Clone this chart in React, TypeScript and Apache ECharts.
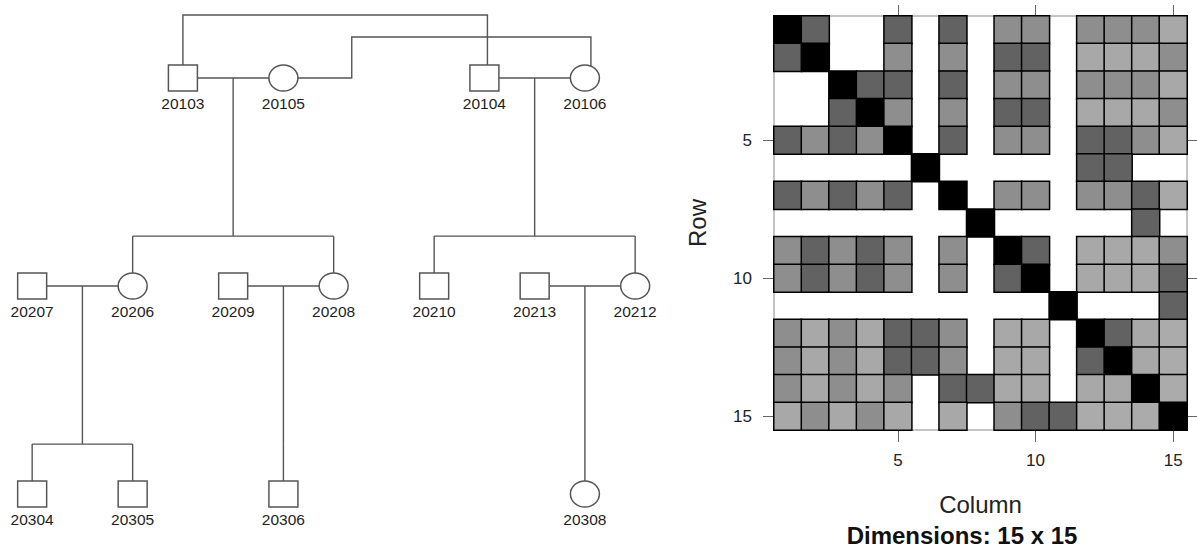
import { useEffect, useRef } from 'react';
import * as echarts from 'echarts';

// ---- Pedigree members: id, sex, horizontal slot and generation ----
const pedIds = ['20103', '20105', '20104', '20106', '20207', '20206', '20209', '20208', '20210', '20213', '20212', '20304', '20305', '20306', '20308'];
const pedSex = ['M', 'F', 'M', 'F', 'M', 'F', 'M', 'F', 'M', 'M', 'F', 'M', 'M', 'M', 'F'];
const pedSlot = [1.5, 2.5, 4.5, 5.5, 0, 1, 2, 3, 4, 5, 6, 0, 1, 2.5, 5.5];
const pedGen = [1, 1, 1, 1, 2, 2, 2, 2, 2, 2, 2, 3, 3, 3, 3];

// ---- Matings and their offspring ----
const matFathers = ['20103', '20104', '20207', '20209', '20213'];
const matMothers = ['20105', '20106', '20206', '20208', '20212'];
const matChildren = [['20206', '20208'], ['20210', '20212'], ['20304', '20305'], ['20306'], ['20308']];

// Connectors between full siblings whose parents are not part of the tree (slot / generation units)
const sibLinkRoutes = [
  [[1.5, 1], [1.5, 0.697], [4.53, 0.697], [4.53, 1]],
  [[2.5, 1], [3.18, 1], [3.18, 0.803], [5.56, 0.803], [5.56, 1]],
];

// ---- Additive relationship matrix ----
const matrixIds = ['20103', '20104', '20105', '20106', '20206', '20207', '20208', '20209', '20210', '20212', '20213', '20304', '20305', '20306', '20308'];
const relationship = [
  [1, 0.5, 0, 0, 0.5, 0, 0.5, 0, 0.25, 0.25, 0, 0.25, 0.25, 0.25, 0.125],
  [0.5, 1, 0, 0, 0.25, 0, 0.25, 0, 0.5, 0.5, 0, 0.125, 0.125, 0.125, 0.25],
  [0, 0, 1, 0.5, 0.5, 0, 0.5, 0, 0.25, 0.25, 0, 0.25, 0.25, 0.25, 0.125],
  [0, 0, 0.5, 1, 0.25, 0, 0.25, 0, 0.5, 0.5, 0, 0.125, 0.125, 0.125, 0.25],
  [0.5, 0.25, 0.5, 0.25, 1, 0, 0.5, 0, 0.25, 0.25, 0, 0.5, 0.5, 0.25, 0.125],
  [0, 0, 0, 0, 0, 1, 0, 0, 0, 0, 0, 0.5, 0.5, 0, 0],
  [0.5, 0.25, 0.5, 0.25, 0.5, 0, 1, 0, 0.25, 0.25, 0, 0.25, 0.25, 0.5, 0.125],
  [0, 0, 0, 0, 0, 0, 0, 1, 0, 0, 0, 0, 0, 0.5, 0],
  [0.25, 0.5, 0.25, 0.5, 0.25, 0, 0.25, 0, 1, 0.5, 0, 0.125, 0.125, 0.125, 0.25],
  [0.25, 0.5, 0.25, 0.5, 0.25, 0, 0.25, 0, 0.5, 1, 0, 0.125, 0.125, 0.125, 0.5],
  [0, 0, 0, 0, 0, 0, 0, 0, 0, 0, 1, 0, 0, 0, 0.5],
  [0.25, 0.125, 0.25, 0.125, 0.5, 0.5, 0.25, 0, 0.125, 0.125, 0, 1, 0.5, 0.125, 0.0625],
  [0.25, 0.125, 0.25, 0.125, 0.5, 0.5, 0.25, 0, 0.125, 0.125, 0, 0.5, 1, 0.125, 0.0625],
  [0.25, 0.125, 0.25, 0.125, 0.25, 0, 0.5, 0.5, 0.125, 0.125, 0, 0.125, 0.125, 1, 0.0625],
  [0.125, 0.25, 0.125, 0.25, 0.125, 0, 0.125, 0, 0.25, 0.5, 0.5, 0.0625, 0.0625, 0.0625, 1],
];
const axisCategories = ['1', '2', '3', '4', '5', '6', '7', '8', '9', '10', '11', '12', '13', '14', '15'];
const labelledTicks = [5, 10, 15];
const shadeValues = [1, 0.5, 0.25, 0.125, 0.0625];
const shadeColors = ['#000000', '#626262', '#8e8e8e', '#a8a8a8', '#ababab'];

const FONT = '"Liberation Sans", Arial, Helvetica, sans-serif';
const LINE_COLOR = '#555';
const SIB_BAR_DROP = 0.76; // sibship bar, in generation units below the parents
const ELLIPSE =
  'path://M0,50 C0,22.4 22.4,0 50,0 C77.6,0 100,22.4 100,50 C100,77.6 77.6,100 50,100 C22.4,100 0,77.6 0,50 Z';

function memberPos(id: string): [number, number] {
  const i = pedIds.indexOf(id);
  return [pedSlot[i], pedGen[i]];
}

function buildPedigreeRoutes(): number[][][] {
  const routes: number[][][] = [];
  matFathers.forEach((fid, k) => {
    const [fx, g] = memberPos(fid);
    const [mx] = memberPos(matMothers[k]);
    routes.push([[fx, g], [mx, g]]);
    const mid = (fx + mx) / 2;
    const barY = g + SIB_BAR_DROP;
    routes.push([[mid, g], [mid, barY]]);
    const kids = matChildren[k].map(memberPos);
    const xs = kids.map((c) => c[0]);
    const lo = Math.min(...xs, mid);
    const hi = Math.max(...xs, mid);
    if (hi > lo) routes.push([[lo, barY], [hi, barY]]);
    kids.forEach(([cx, cg]) => routes.push([[cx, barY], [cx, cg]]));
  });
  sibLinkRoutes.forEach((r) => routes.push(r));
  return routes;
}

export default function App() {
  const ref = useRef<HTMLDivElement>(null);

  useEffect(() => {
    if (!ref.current) return;
    const chart = echarts.init(ref.current, undefined, { renderer: 'svg' });

    const heatData: number[][] = [];
    relationship.forEach((row, r) =>
      row.forEach((v, c) => {
        if (v > 0) heatData.push([c, r, v]);
      })
    );

    const tickFilter = (index: number) => labelledTicks.indexOf(index + 1) >= 0;
    const tickStyle = { color: '#666', width: 1 };

    const catAxisBase = {
      gridIndex: 1,
      type: 'category' as const,
      data: axisCategories,
      boundaryGap: true,
      axisLine: { show: false },
      splitLine: { show: false },
      axisTick: { show: true, alignWithLabel: true, interval: tickFilter, length: 11, lineStyle: tickStyle },
    };

    // pedigree panel: 100.5 px per slot, 208 px per generation
    const pedWidth = 670;
    const pedHeight = 549;
    const slotMin = -0.32;
    const genMin = 0.625;

    chart.setOption({
      animation: false,
      textStyle: { fontFamily: FONT },
      grid: [
        { left: 0, top: 0, width: pedWidth, height: pedHeight, show: false },
        { left: 774, top: 16, width: 413, height: 414, show: true, borderColor: '#8a8a8a', borderWidth: 1, backgroundColor: 'transparent' },
      ],
      xAxis: [
        { gridIndex: 0, type: 'value', min: slotMin, max: slotMin + pedWidth / 100.5, show: false },
        {
          ...catAxisBase,
          position: 'bottom',
          axisTick: { ...catAxisBase.axisTick, length: 12 },
          axisLabel: { interval: tickFilter, margin: 22, fontSize: 17, color: '#222', fontFamily: FONT },
          name: 'Column',
          nameLocation: 'middle',
          nameGap: 62,
          nameTextStyle: { fontSize: 24, color: '#222', fontFamily: FONT },
        },
        { ...catAxisBase, position: 'top', axisLabel: { show: false } },
      ],
      yAxis: [
        { gridIndex: 0, type: 'value', min: genMin, max: genMin + pedHeight / 208, inverse: true, show: false },
        {
          ...catAxisBase,
          inverse: true,
          position: 'left',
          axisLabel: { interval: tickFilter, margin: 22, fontSize: 17, color: '#222', fontFamily: FONT },
          name: 'Row',
          nameLocation: 'middle',
          nameGap: 65,
          nameTextStyle: { fontSize: 24, color: '#222', fontFamily: FONT },
        },
        { ...catAxisBase, inverse: true, position: 'right', axisLabel: { show: false } },
      ],
      visualMap: {
        type: 'piecewise',
        show: false,
        seriesIndex: 2,
        dimension: 2,
        pieces: shadeValues.map((v, i) => ({ value: v, color: shadeColors[i] })),
      },
      graphic: [
        {
          type: 'text',
          x: 962,
          y: 535,
          style: {
            text: 'Dimensions: ' + matrixIds.length + ' x ' + matrixIds.length,
            font: 'bold 24px ' + FONT,
            fill: '#111',
            textAlign: 'center',
            textVerticalAlign: 'middle',
          },
        },
      ],
      series: [
        {
          type: 'lines',
          coordinateSystem: 'cartesian2d',
          xAxisIndex: 0,
          yAxisIndex: 0,
          polyline: true,
          silent: true,
          z: 1,
          data: buildPedigreeRoutes().map((coords) => ({ coords })),
          lineStyle: { color: LINE_COLOR, width: 1.4, opacity: 1, curveness: 0 },
        },
        {
          type: 'scatter',
          xAxisIndex: 0,
          yAxisIndex: 0,
          z: 3,
          silent: true,
          symbolSize: [29, 26],
          data: pedIds.map((id, i) => ({
            name: id,
            value: [pedSlot[i], pedGen[i]],
            symbol: pedSex[i] === 'M' ? 'rect' : ELLIPSE,
          })),
          itemStyle: { color: '#ffffff', borderColor: LINE_COLOR, borderWidth: 1.4, opacity: 1 },
          label: { show: true, position: 'bottom', distance: 4, formatter: '{b}', fontSize: 15.5, color: '#1e1e1e', fontFamily: FONT },
          emphasis: { disabled: true },
        },
        {
          type: 'heatmap',
          xAxisIndex: 1,
          yAxisIndex: 1,
          silent: true,
          data: heatData,
          itemStyle: { borderColor: '#000', borderWidth: 1.5 },
          emphasis: { disabled: true },
        },
      ],
    });

    return () => chart.dispose();
  }, []);

  return <div ref={ref} style={{ position: 'absolute', left: 0, top: 0, width: 1197, height: 549 }} />;
}
